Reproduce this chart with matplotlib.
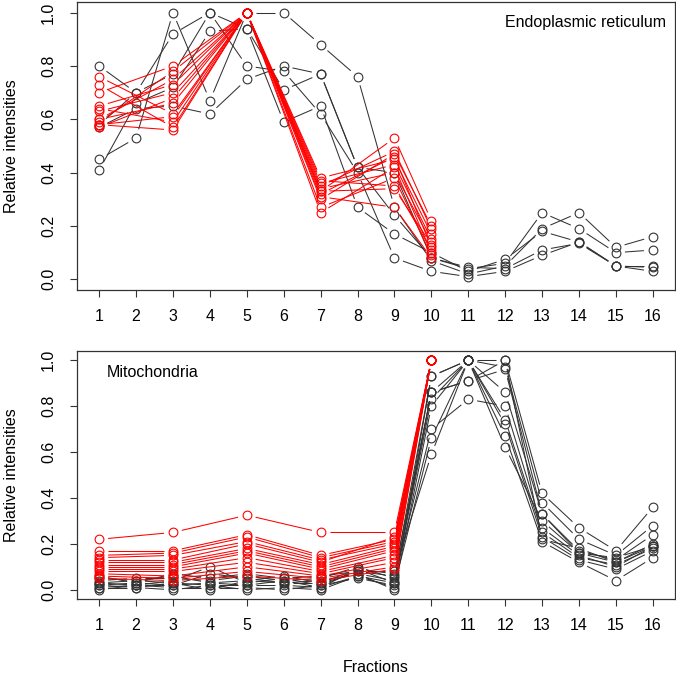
import numpy as np
import matplotlib
matplotlib.use("Agg")
import matplotlib.pyplot as plt
from matplotlib.collections import LineCollection

plt.rcParams['font.family'] = ['Liberation Sans', 'DejaVu Sans']

fractions = list(range(1, 17))
red_fractions = [1, 3, 5, 7, 9, 10]
yticks = [0.0, 0.2, 0.4, 0.6, 0.8, 1.0]

# Endoplasmic reticulum panel
er_marker = [
    [0.76, 0.62, 1.0, 0.33, 0.53, 0.22],
    [0.73, 0.57, 1.0, 0.35, 0.48, 0.19],
    [0.70, 0.80, 1.0, 0.30, 0.47, 0.20],
    [0.65, 0.73, 1.0, 0.38, 0.45, 0.17],
    [0.63, 0.70, 1.0, 0.36, 0.43, 0.15],
    [0.60, 0.66, 1.0, 0.34, 0.40, 0.14],
    [0.59, 0.78, 1.0, 0.32, 0.46, 0.12],
    [0.58, 0.56, 1.0, 0.37, 0.35, 0.11],
    [0.57, 0.68, 1.0, 0.25, 0.42, 0.10],
    [0.58, 0.61, 1.0, 0.27, 0.38, 0.09],
    [0.60, 0.75, 1.0, 0.31, 0.27, 0.08],
    [0.64, 0.59, 1.0, 0.33, 0.34, 0.13],
]
er_other = [
    [0.80, 0.70, 0.92, 1.00, 0.80, 0.78, 0.62, 0.40, 0.08, 0.03, 0.01, 0.03, 0.09, 0.14, 0.05, 0.03],
    [0.45, 0.53, 1.00, 0.67, 1.00, 1.00, 0.88, 0.76, 0.27, 0.07, 0.02, 0.05, 0.19, 0.25, 0.12, 0.16],
    [0.41, 0.66, 0.72, 0.93, 0.94, 0.71, 0.77, 0.42, 0.24, 0.08, 0.04, 0.06, 0.25, 0.19, 0.10, 0.11],
    [0.58, 0.70, 0.77, 1.00, 0.94, 0.59, 0.65, 0.27, 0.17, 0.10, 0.03, 0.075, 0.18, 0.14, 0.05, 0.05],
    [0.57, 0.64, 0.65, 0.62, 0.75, 0.80, 0.77, 0.42, 0.40, 0.08, 0.045, 0.04, 0.11, 0.135, 0.05, 0.045],
]

# Mitochondria panel
mito_marker = [
    [0.22, 0.25, 0.325, 0.25, 0.25, 1.0],
    [0.17, 0.17, 0.24, 0.15, 0.22, 1.0],
    [0.15, 0.16, 0.23, 0.14, 0.21, 1.0],
    [0.14, 0.15, 0.21, 0.13, 0.20, 1.0],
    [0.13, 0.13, 0.20, 0.12, 0.23, 1.0],
    [0.12, 0.12, 0.18, 0.11, 0.19, 1.0],
    [0.11, 0.11, 0.17, 0.10, 0.18, 1.0],
    [0.10, 0.10, 0.16, 0.09, 0.17, 1.0],
    [0.09, 0.09, 0.14, 0.08, 0.15, 1.0],
    [0.08, 0.08, 0.12, 0.07, 0.14, 1.0],
    [0.07, 0.06, 0.10, 0.06, 0.12, 1.0],
    [0.06, 0.05, 0.08, 0.05, 0.10, 1.0],
    [0.05, 0.04, 0.06, 0.04, 0.09, 1.0],
]
mito_other = [
    [0.03, 0.02, 0.04, 0.10, 0.03, 0.05, 0.02, 0.08, 0.06, 0.93, 1.00, 1.00, 0.42, 0.27, 0.17, 0.36],
    [0.02, 0.03, 0.02, 0.07, 0.05, 0.03, 0.04, 0.07, 0.04, 0.86, 1.00, 0.97, 0.38, 0.22, 0.15, 0.28],
    [0.05, 0.04, 0.06, 0.03, 0.04, 0.06, 0.03, 0.09, 0.07, 0.86, 0.91, 0.96, 0.33, 0.17, 0.13, 0.24],
    [0.01, 0.01, 0.03, 0.02, 0.02, 0.02, 0.01, 0.06, 0.03, 0.83, 1.00, 0.86, 0.33, 0.16, 0.12, 0.19],
    [0.04, 0.05, 0.05, 0.04, 0.06, 0.04, 0.05, 0.10, 0.05, 0.70, 0.83, 0.80, 0.27, 0.15, 0.10, 0.19],
    [0.00, 0.02, 0.01, 0.01, 0.01, 0.00, 0.02, 0.05, 0.02, 0.66, 1.00, 0.74, 0.25, 0.14, 0.11, 0.18],
    [0.06, 0.03, 0.07, 0.05, 0.07, 0.05, 0.06, 0.08, 0.08, 0.59, 1.00, 0.72, 0.23, 0.13, 0.09, 0.17],
    [0.02, 0.01, 0.00, 0.02, 0.00, 0.01, 0.00, 0.06, 0.01, 0.93, 1.00, 0.67, 0.21, 0.12, 0.04, 0.14],
    [0.03, 0.04, 0.03, 0.00, 0.04, 0.03, 0.03, 0.07, 0.00, 0.80, 1.00, 0.62, 0.30, 0.16, 0.14, 0.19],
    [0.01, 0.02, 0.02, 0.03, 0.02, 0.04, 0.01, 0.09, 0.03, 0.86, 0.91, 1.00, 0.22, 0.18, 0.12, 0.20],
]

GAP = 9.0  # pixels, like R's type="b"


def gapped(ax, x, y, color):
    # points plus line pieces that stop short of each point
    pts = ax.transData.transform(np.column_stack([x, y]))
    segs = []
    for p, q in zip(pts[:-1], pts[1:]):
        d = q - p
        L = np.hypot(*d)
        if L <= 2 * GAP:
            continue
        u = d / L
        segs.append(ax.transData.inverted().transform([p + u * GAP, q - u * GAP]))
    ax.add_collection(LineCollection(segs, colors=color, linewidths=0.75))
    ax.plot(x, y, linestyle='none', marker='o', markersize=6.3, markerfacecolor='none',
            markeredgecolor=color, markeredgewidth=0.8)


def setup(ax):
    ax.set_xlim(0.4, 16.6)
    ax.set_ylim(-0.04, 1.04)
    ax.set_xticks(fractions)
    ax.set_yticks(yticks)
    ax.set_yticklabels(["%.1f" % v for v in yticks], rotation=90, va='center')
    ax.tick_params(length=5, width=0.8, labelsize=11.5, color='#333333')
    ax.tick_params(axis='x', pad=9)
    ax.tick_params(axis='y', pad=10)
    for s in ax.spines.values():
        s.set_linewidth(0.9)
        s.set_color('#333333')
    ax.set_ylabel("Relative intensities", fontsize=11.5, labelpad=16)


fig = plt.figure(figsize=(6.76, 6.77), dpi=100)
ax1 = fig.add_axes([77 / 676, 1 - 290 / 677, 598 / 676, 288 / 677])
ax2 = fig.add_axes([77 / 676, 1 - 599 / 677, 598 / 676, 248 / 677])

for ax, other, marker in [(ax1, er_other, er_marker), (ax2, mito_other, mito_marker)]:
    setup(ax)
    for row in other:
        gapped(ax, fractions, row, '#333333')
    for row in marker:
        gapped(ax, red_fractions, row, '#ff0000')

ax1.text(0.985, 0.93, "Endoplasmic reticulum", transform=ax1.transAxes,
         ha='right', va='center', fontsize=11.5)
ax2.text(0.05, 0.915, "Mitochondria", transform=ax2.transAxes,
         ha='left', va='center', fontsize=11.5)
ax2.set_xlabel("Fractions", fontsize=11.5, labelpad=19)

fig.savefig("out.png", dpi=100)
